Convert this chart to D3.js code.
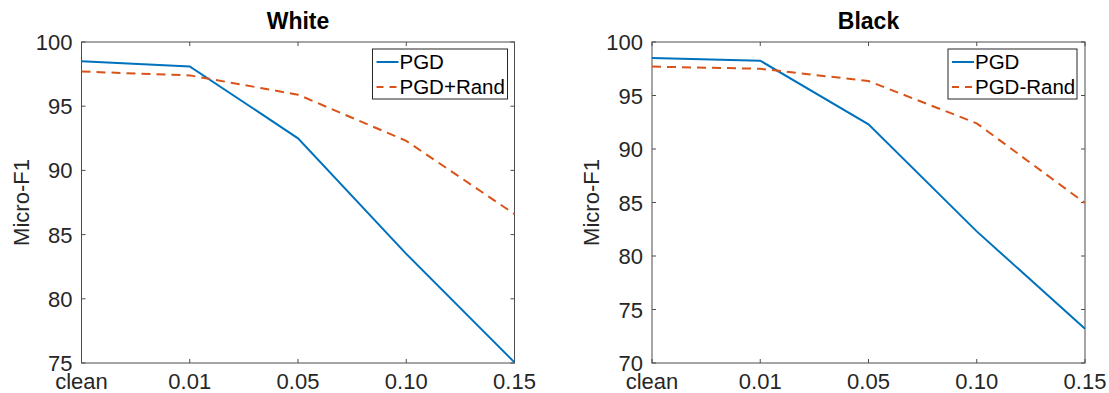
<!DOCTYPE html>
<html>
<head>
<meta charset="utf-8">
<script src="https://cdn.jsdelivr.net/npm/d3@7"></script>
<style>
  body { margin: 0; background: #fff; }
  text { font-family: "Liberation Sans", Arial, sans-serif; fill: #262626; }
</style>
</head>
<body>
<svg id="chart" width="1109" height="393"></svg>
<script>
// data
const categories = ["clean", "0.01", "0.05", "0.10", "0.15"];
const whitePGD = [98.5, 98.1, 92.5, 83.5, 75.05];
const whiteRand = [97.7, 97.4, 95.9, 92.3, 86.6];
const blackPGD = [98.5, 98.25, 92.3, 82.3, 73.2];
const blackRand = [97.7, 97.5, 96.35, 92.4, 84.95];
const whiteTicks = [75, 80, 85, 90, 95, 100];
const blackTicks = [70, 75, 80, 85, 90, 95, 100];

const dims = { top: 42, bottom: 363, width: 433 };
const svg = d3.select("#chart");

var drawPanel = function (cfg) {
  const g = svg.append("g").attr("transform", `translate(${cfg.left},0)`);

  const x = d3.scalePoint().domain(categories).range([0, dims.width]);
  const y = d3.scaleLinear().domain(cfg.domain).range([dims.bottom, dims.top]);

  // box
  g.append("rect")
    .attr("x", 0).attr("y", dims.top)
    .attr("width", dims.width).attr("height", dims.bottom - dims.top)
    .attr("fill", "none").attr("stroke", "#4d4d4d").attr("stroke-width", 1);

  // ticks (inside, mirrored)
  const tickLen = 4;
  g.selectAll(".xt").data(categories).join("path")
    .attr("d", d => `M${x(d)},${dims.bottom}v${-tickLen}M${x(d)},${dims.top}v${tickLen}`)
    .attr("stroke", "#4d4d4d");
  g.selectAll(".yt").data(cfg.ticks).join("path")
    .attr("d", d => `M0,${y(d)}h${tickLen}M${dims.width},${y(d)}h${-tickLen}`)
    .attr("stroke", "#4d4d4d");

  // tick labels
  g.selectAll(".xl").data(categories).join("text")
    .attr("x", d => x(d)).attr("y", 389)
    .attr("text-anchor", "middle").attr("font-size", 22)
    .text(d => d);
  g.selectAll(".yl").data(cfg.ticks).join("text")
    .attr("x", -9).attr("y", d => y(d) + 8)
    .attr("text-anchor", "end").attr("font-size", 22)
    .text(d => d);

  // axis label + title
  g.append("text")
    .attr("transform", `translate(${-53},${(dims.top + dims.bottom) / 2}) rotate(-90)`)
    .attr("text-anchor", "middle").attr("font-size", 22)
    .text("Micro-F1");
  g.append("text")
    .attr("x", dims.width / 2).attr("y", 29)
    .attr("text-anchor", "middle").attr("font-size", 23).attr("font-weight", "bold")
    .style("fill", "#000")
    .text(cfg.title);

  const line = d3.line().x((d, i) => x(categories[i])).y(d => y(d));

  g.append("path").datum(cfg.pgd)
    .attr("d", line).attr("fill", "none")
    .attr("stroke", "#0072BD").attr("stroke-width", 2);
  g.append("path").datum(cfg.rand)
    .attr("d", line).attr("fill", "none")
    .attr("stroke", "#D95319").attr("stroke-width", 2)
    .attr("stroke-dasharray", "9,6");

  // legend
  const lg = g.append("g").attr("transform", `translate(${cfg.legendX},49)`);
  lg.append("rect")
    .attr("width", cfg.legendW).attr("height", 50)
    .attr("fill", "#fff").attr("stroke", "#262626").attr("stroke-width", 1);
  lg.append("line").attr("x1", 4).attr("x2", 26).attr("y1", 13).attr("y2", 13)
    .attr("stroke", "#0072BD").attr("stroke-width", 2);
  lg.append("line").attr("x1", 4).attr("x2", 26).attr("y1", 38).attr("y2", 38)
    .attr("stroke", "#D95319").attr("stroke-width", 2).attr("stroke-dasharray", "7,6");
  lg.append("text").attr("x", 27).attr("y", 20).attr("font-size", 20.5)
    .style("fill", "#000").text("PGD");
  lg.append("text").attr("x", 27).attr("y", 45).attr("font-size", 20.5)
    .style("fill", "#000").text(cfg.randName);
};

drawPanel({
  left: 81.5, domain: [75, 100], ticks: whiteTicks, title: "White",
  pgd: whitePGD, rand: whiteRand, randName: "PGD+Rand",
  legendX: 291, legendW: 135
});
drawPanel({
  left: 652, domain: [70, 100], ticks: blackTicks, title: "Black",
  pgd: blackPGD, rand: blackRand, randName: "PGD-Rand",
  legendX: 296, legendW: 129
});
</script>
</body>
</html>
